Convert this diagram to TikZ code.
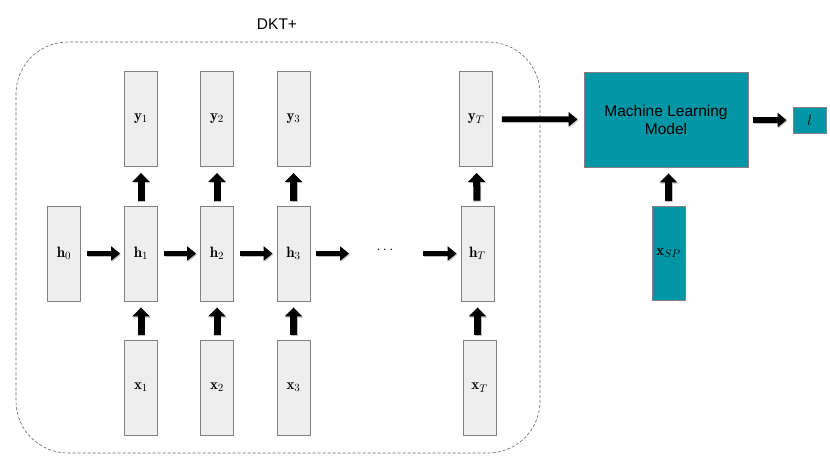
\documentclass[tikz,border=0pt]{standalone}
\usepackage{fontspec}
\setsansfont{Liberation Sans}
\usetikzlibrary{arrows.meta}
\definecolor{mlteal}{RGB}{0,150,166}
\definecolor{cellfill}{RGB}{238,238,238}
\definecolor{cellline}{RGB}{130,130,130}
\begin{document}
\begin{tikzpicture}[x=1pt,y=-1pt,
  mathfont/.style={font=\fontsize{15}{17}\selectfont},
  cell/.style={draw=cellline, fill=cellfill, line width=0.9pt, minimum width=33pt, minimum height=95pt, inner sep=0pt, mathfont},
  tealbox/.style={draw=cellline, fill=mlteal, line width=0.9pt, inner sep=0pt},
  fat/.style={line width=5.5pt, -{Triangle[length=9pt,width=14pt]},
    preaction={draw=black!25, line width=5.5pt, transform canvas={shift={(0.8pt,-1.2pt)}}}},
  fatv/.style={line width=7pt, -{Triangle[length=9pt,width=17pt]},
    preaction={draw=black!25, line width=7pt, transform canvas={shift={(0.8pt,-1.2pt)}}}},
  lbl/.style={font=\sffamily\fontsize{15.5}{18}\selectfont}
]
\useasboundingbox (0,0) rectangle (830,467);

% frame
\node[draw=black!60, dashed, dash pattern=on 3pt off 2pt, line width=0.6pt, rounded corners=52pt,
      minimum width=524pt, minimum height=411pt, inner sep=0pt] (frame) at (278,247.5) {};
\node[lbl] (dkt) at (277,24) {DKT+};

% outputs
\node[cell] (y1) at (141,119) {$\mathbf{y}_1$};
\node[cell] (y2) at (217,119) {$\mathbf{y}_2$};
\node[cell] (y3) at (293.5,119) {$\mathbf{y}_3$};
\node[cell] (yT) at (476,119) {$\mathbf{y}_T$};

% hidden
\node[cell] (h0) at (64,253.5) {$\mathbf{h}_0$};
\node[cell] (h1) at (141,253.5) {$\mathbf{h}_1$};
\node[cell] (h2) at (217,253.5) {$\mathbf{h}_2$};
\node[cell] (h3) at (293.5,253.5) {$\mathbf{h}_3$};
\node[cell] (hT) at (477.5,253.5) {$\mathbf{h}_T$};

% inputs
\node[cell] (x1) at (141,387.5) {$\mathbf{x}_1$};
\node[cell] (x2) at (217,387.5) {$\mathbf{x}_2$};
\node[cell] (x3) at (293.5,387.5) {$\mathbf{x}_3$};
\node[cell] (xT) at (479.5,387.5) {$\mathbf{x}_T$};

\node[mathfont] (dots) at (385,250) {$\cdots$};
\coordinate (d1) at (349,253.5);
\coordinate (d2) at (423,253.5);

% ML part
\node[tealbox, minimum width=164pt, minimum height=95pt, align=center, lbl] (ml) at (666,119.5) {Machine Learning\\Model};
\node[tealbox, minimum width=33pt, minimum height=94pt, mathfont] (xsp) at (668.5,253) {$\mathbf{x}_{SP}$};
\node[tealbox, minimum width=33pt, minimum height=26pt, mathfont] (l) at (809.5,120) {$l$};

% horizontal arrows
\draw[fat, shorten <=6pt, shorten >=4pt] (h0) -- (h1);
\draw[fat, shorten <=6pt, shorten >=4pt] (h1) -- (h2);
\draw[fat, shorten <=6pt, shorten >=4pt] (h2) -- (h3);
\draw[fat, shorten <=6pt] (h3) -- (d1);
\draw[fat, shorten >=4pt] (d2) -- (hT);

% vertical arrows
\foreach \i in {1,2,3,T}{
  \draw[fatv, shorten <=5pt, shorten >=6pt] (h\i) -- (y\i);
}
\draw[fatv, shorten <=5pt, shorten >=6pt] (x1) -- (h1);
\draw[fatv, shorten <=5pt, shorten >=6pt] (x2) -- (h2);
\draw[fatv, shorten <=5pt, shorten >=6pt] (x3) -- (h3);
\draw[fatv, shorten <=5pt, shorten >=6pt] (xT.north -| hT) -- (hT);

\draw[fat, shorten <=9pt, shorten >=6pt] (yT) -- (ml);
\draw[fatv, shorten <=5pt, shorten >=6pt] (xsp) -- (ml.south -| xsp);
\draw[fat, shorten <=5pt, shorten >=6pt] (ml.east |- l) -- (l);
\end{tikzpicture}
\end{document}
